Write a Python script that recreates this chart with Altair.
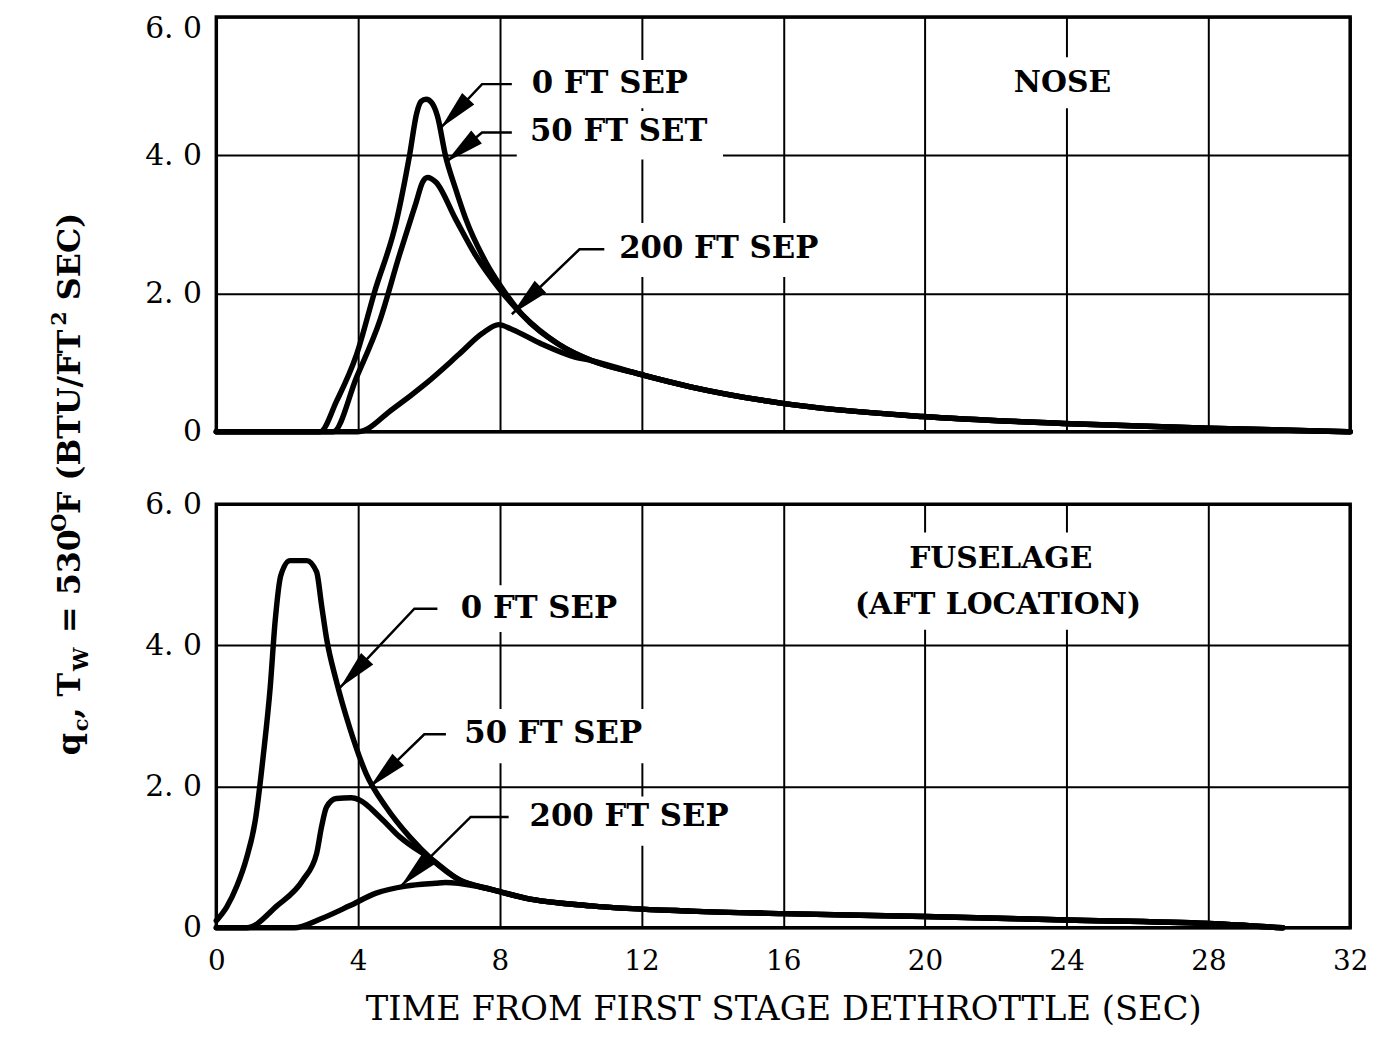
import math
import altair as alt
import pandas as pd

FONT = "DejaVu Serif"

# ---------------- data ----------------
# NOSE panel
nose_0ft_t = [0, 2.93, 3.40, 3.96, 4.47, 5.08, 5.45, 5.66, 5.78, 5.92, 6.08, 6.24, 6.47, 6.75, 7.04, 7.60, 8.06, 8.62, 9.65, 10.59, 11.89, 13.38, 15.98, 19.93, 23.9, 27.98, 32.0]
nose_0ft_q = [0, 0.0, 0.45, 1.12, 2.03, 3.04, 3.99, 4.62, 4.78, 4.81, 4.76, 4.57, 3.99, 3.52, 3.08, 2.46, 2.08, 1.70, 1.27, 1.03, 0.84, 0.65, 0.41, 0.22, 0.12, 0.05, 0.0]

nose_50ft_t = [0, 3.30, 3.96, 4.61, 5.17, 5.64, 5.82, 5.96, 6.20, 6.75, 7.31, 7.97, 8.62, 9.65, 10.59, 11.89, 13.38, 15.98, 19.93, 23.9, 27.98, 32.0]
nose_50ft_q = [0, 0.0, 0.79, 1.60, 2.56, 3.32, 3.61, 3.68, 3.61, 3.08, 2.56, 2.08, 1.70, 1.27, 1.03, 0.84, 0.65, 0.41, 0.22, 0.12, 0.05, 0.0]

nose_200ft_t = [0, 4.00, 4.98, 5.92, 6.85, 7.50, 7.97, 8.35, 9.18, 10.12, 10.59, 11.89, 13.38, 15.98, 19.93, 23.9, 27.98, 32.0]
nose_200ft_q = [0, 0.0, 0.33, 0.70, 1.12, 1.42, 1.55, 1.48, 1.27, 1.08, 1.03, 0.84, 0.65, 0.41, 0.22, 0.12, 0.05, 0.0]

# FUSELAGE (AFT LOCATION) panel
fus_0ft_t = [0, 0.30, 0.58, 0.85, 1.10, 1.33, 1.52, 1.66, 1.82, 2.08, 2.55, 2.83, 2.97, 3.11, 3.39, 3.76, 4.23, 4.79, 5.45, 6.10, 6.85, 7.78, 8.72, 10.59, 13.39, 16.0, 20.0, 24.0, 28.0, 30.1]
fus_0ft_q = [0.1, 0.30, 0.59, 0.98, 1.52, 2.46, 3.40, 4.34, 4.99, 5.20, 5.20, 5.04, 4.57, 4.10, 3.49, 2.84, 2.18, 1.71, 1.29, 0.96, 0.68, 0.54, 0.42, 0.31, 0.235, 0.20, 0.16, 0.11, 0.06, 0.0]

fus_50ft_t = [0, 0.86, 1.71, 2.45, 2.83, 2.97, 3.11, 3.39, 3.81, 4.04, 4.61, 5.17, 6.10, 6.85, 7.78, 8.72, 10.59, 13.39, 16.0, 20.0, 24.0, 28.0, 30.1]
fus_50ft_q = [0, 0.0, 0.31, 0.68, 1.05, 1.43, 1.71, 1.83, 1.84, 1.81, 1.57, 1.29, 0.96, 0.68, 0.54, 0.42, 0.31, 0.235, 0.20, 0.16, 0.11, 0.06, 0.0]

fus_200ft_t = [0, 2.20, 2.92, 3.76, 4.51, 5.35, 6.19, 6.47, 7.32, 7.78, 8.72, 10.59, 13.39, 16.0, 20.0, 24.0, 28.0, 30.1]
fus_200ft_q = [0, 0.0, 0.12, 0.31, 0.49, 0.59, 0.63, 0.64, 0.59, 0.54, 0.42, 0.31, 0.235, 0.20, 0.16, 0.11, 0.06, 0.0]

x_ticks = [0, 4, 8, 12, 16, 20, 24, 28, 32]
y_ticks = [0, 2, 4, 6]

# annotation callouts: label, text x/y, leader tip, elbow, end of horizontal
nose_labels = ["0 FT SEP", "50 FT SET", "200 FT SEP"]
nose_text_t = [8.9, 8.85, 11.37]
nose_text_q = [5.03, 4.33, 2.64]
nose_tip_t = [6.34, 6.48, 8.34]
nose_tip_q = [4.40, 3.90, 1.70]
nose_elb_t = [7.50, 7.50, 10.25]
nose_end_t = [8.34, 8.34, 10.95]
nose_box = [(8.48, 13.9, 5.38, 4.68), (8.48, 14.3, 4.64, 3.94), (11.0, 17.4, 3.02, 2.24), (22.3, 25.5, 5.42, 4.68)]

fus_labels = ["0 FT SEP", "50 FT SEP", "200 FT SEP"]
fus_text_t = [6.9, 7.0, 8.84]
fus_text_q = [4.52, 2.74, 1.57]
fus_tip_t = [3.49, 4.33, 5.21]
fus_tip_q = [3.40, 1.99, 0.59]
fus_elb_t = [5.59, 5.87, 7.18]
fus_end_t = [6.24, 6.48, 8.25]
fus_box = [(6.38, 11.8, 4.85, 4.19), (6.66, 12.5, 3.10, 2.33), (8.47, 15.0, 1.86, 1.16), (18.6, 26.6, 5.6, 4.22)]

W = 1143
H_TOP = 418
H_BOT = 427
XMAX, YMAX = 32, 6


def lines_df(series):
    rows = []
    for name, ts, qs in series:
        for t, q in zip(ts, qs):
            rows.append({"t": t, "q": q, "s": name})
    return pd.DataFrame(rows)


YLABEL = "datum.value == 0 ? '0' : replace(format(datum.value, '.1f'), '.', '. ')"


def panel(series, labels, tx, tq, tipt, tipq, elbt, endt, boxes, titles, H, bottom):
    xs = alt.Scale(domain=[0, XMAX], nice=False, zero=False)
    ys = alt.Scale(domain=[0, YMAX], nice=False, zero=False)
    if bottom:
        xaxis = alt.Axis(values=x_ticks, grid=True, title="TIME FROM FIRST STAGE DETHROTTLE (SEC)",
                         labelFontSize=28, labelPadding=20, labelFlush=False, titleFontSize=34,
                         titlePadding=18, titleFont=FONT, titleFontWeight="normal", titleColor="black")
        yaxis = alt.Axis(values=y_ticks, grid=True, title=None, labelFontSize=30, labelPadding=15,
                         labelExpr=YLABEL)
    else:
        xaxis = alt.Axis(values=x_ticks, grid=True, labels=False, title=None)
        yaxis = alt.Axis(values=y_ticks, grid=True, title=None, labelFontSize=30, labelPadding=15,
                         labelOffset=alt.condition("datum.value == 6", alt.value(12), alt.value(0)),
                         labelExpr=YLABEL)

    base_x = alt.X("t:Q", scale=xs, axis=xaxis)
    base_y = alt.Y("q:Q", scale=ys, axis=yaxis)

    # white boxes behind labels (gridlines are broken there)
    bx = pd.DataFrame([{"t": b[0], "t2": b[1], "q": b[2], "q2": b[3]} for b in boxes])
    boxes_l = alt.Chart(bx).mark_rect(color="white").encode(
        x=alt.X("t:Q", scale=xs, axis=xaxis), x2="t2:Q", y=alt.Y("q:Q", scale=ys, axis=yaxis), y2="q2:Q")

    curves = alt.Chart(lines_df(series)).mark_line(
        color="black", strokeWidth=5.5, interpolate="monotone", strokeCap="round", strokeJoin="round"
    ).encode(x=base_x, y=base_y, detail="s:N")

    # leader lines
    rows = []
    arrows = []
    SIZE = 1600
    L = math.sqrt(SIZE)
    for i in range(len(labels)):
        pts = [(tipt[i], tipq[i]), (elbt[i], tq[i]), (endt[i], tq[i])]
        for j, (a, b) in enumerate(pts):
            rows.append({"t": a, "q": b, "k": i, "o": j})
        # arrowhead: sits on the leader just behind the tip
        px_tip = (tipt[i] * W / XMAX, (YMAX - tipq[i]) * H / YMAX)
        px_elb = (elbt[i] * W / XMAX, (YMAX - tq[i]) * H / YMAX)
        dx, dy = px_elb[0] - px_tip[0], px_elb[1] - px_tip[1]
        dl = math.hypot(dx, dy)
        ux, uy = dx / dl, dy / dl
        cx, cy = px_tip[0] + ux * L / 2, px_tip[1] + uy * L / 2
        ang = math.degrees(math.atan2(-ux, uy)) % 360
        arrows.append({"t": cx * XMAX / W, "q": YMAX - cy * YMAX / H, "a": ang})
    leaders = alt.Chart(pd.DataFrame(rows)).mark_line(color="black", strokeWidth=2.5).encode(
        x=base_x, y=base_y, detail="k:N", order="o:Q")
    heads = alt.Chart(pd.DataFrame(arrows)).mark_point(
        shape="M0,-1L0.42,1L-0.42,1Z", filled=True, color="black", opacity=1, size=SIZE
    ).encode(x=base_x, y=base_y, angle=alt.Angle("a:Q", scale=None))

    txt = alt.Chart(pd.DataFrame({"t": tx, "q": tq, "lab": labels})).mark_text(
        align="left", baseline="middle", font=FONT, fontSize=31, fontWeight="bold", color="black"
    ).encode(x=base_x, y=base_y, text="lab:N")

    ttl = alt.Chart(pd.DataFrame(titles)).mark_text(
        align="center", baseline="middle", font=FONT, fontSize=30, fontWeight="bold", color="black"
    ).encode(x=base_x, y=base_y, text="lab:N")

    return [boxes_l, curves, leaders, heads, txt, ttl]


top_layers = panel(
    [("0", nose_0ft_t, nose_0ft_q), ("50", nose_50ft_t, nose_50ft_q), ("200", nose_200ft_t, nose_200ft_q)],
    nose_labels, nose_text_t, nose_text_q, nose_tip_t, nose_tip_q, nose_elb_t, nose_end_t, nose_box,
    {"t": [23.88], "q": [5.05], "lab": ["NOSE"]}, H_TOP, False)

bot_layers = panel(
    [("0", fus_0ft_t, fus_0ft_q), ("50", fus_50ft_t, fus_50ft_q), ("200", fus_200ft_t, fus_200ft_q)],
    fus_labels, fus_text_t, fus_text_q, fus_tip_t, fus_tip_q, fus_elb_t, fus_end_t, fus_box,
    {"t": [22.14, 22.06], "q": [5.22, 4.57], "lab": ["FUSELAGE", "(AFT LOCATION)"]}, H_BOT, True)

# y-axis title built from pieces (subscripts / superscripts), read bottom-to-top
title_pieces = ["q", "c", ", T", "W", "= 530", "O", "F (BTU/FT", "2", "SEC)"]
title_kind = ["main", "sub", "main", "sub", "main", "sup", "main", "sup", "main"]
title_gap = [0, 0, 0, 0, 1, 0, 0, 0, 1]   # a word space before the piece
# approximate advance widths (em) of DejaVu Serif Bold, used to chain the pieces
ADV = {"q": .75, "c": .61, ",": .38, " ": .348, "T": .77, "W": 1.3, "=": .75, "5": .696, "3": .696,
       "0": .696, "2": .696, "O": .85, "F": .75, "(": .47, ")": .47, "B": .83, "U": .88, "/": .365,
       "S": .72, "E": .76, "C": .78}
FS_MAIN, FS_SMALL = 32, 21
TOP_Y = 13
LEFT_X = 212
BASE_X = 75
y_cursor = 757
one = pd.DataFrame({"a": [0]})
title_layers = []
for s, k, g in zip(title_pieces, title_kind, title_gap):
    fs = FS_MAIN if k == "main" else FS_SMALL
    y_cursor -= g * ADV[" "] * FS_MAIN
    bxp = BASE_X + (8 if k == "sub" else (-15 if k == "sup" else 0))
    title_layers.append(
        alt.Chart(one).mark_text(text=s, angle=270, align="left", baseline="alphabetic", font=FONT,
                                 fontSize=fs, fontWeight="bold", color="black")
        .encode(x=alt.value(bxp - LEFT_X), y=alt.value(y_cursor - TOP_Y))
    )
    y_cursor -= sum(ADV.get(ch, 0.7) for ch in s) * fs

top = alt.layer(*top_layers, *title_layers).properties(width=W, height=H_TOP)
bot = alt.layer(*bot_layers).properties(width=W, height=H_BOT)

chart = alt.vconcat(top, bot, spacing=73, bounds="flush").properties(
    padding={"left": 39, "top": 0, "right": 0, "bottom": 5}, background="white"
).configure_view(stroke="black", strokeWidth=3.5).configure_axis(
    gridColor="black", gridWidth=2, gridOpacity=1, domain=False, ticks=False,
    labelFont=FONT, labelColor="black", titleFont=FONT, titleColor="black"
)

chart.save("out.html", embed_options={"renderer": "svg", "actions": False})
